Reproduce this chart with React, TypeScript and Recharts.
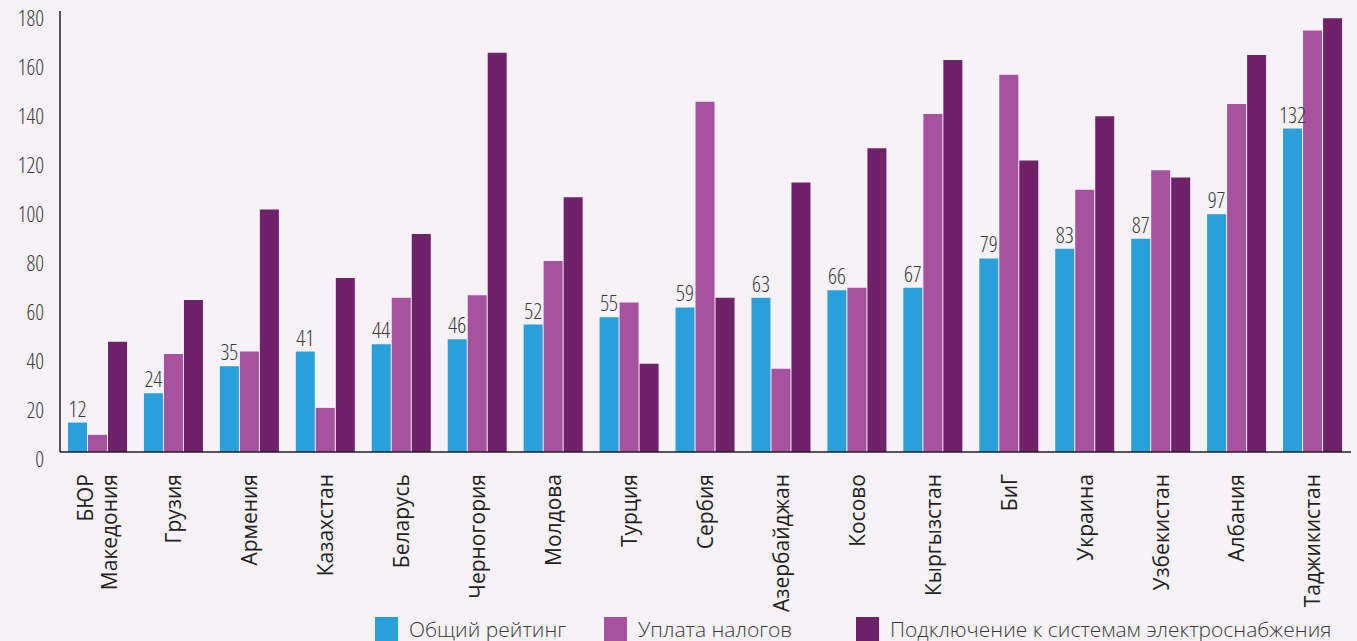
import { BarChart, Bar, XAxis, YAxis, Legend, LabelList } from "recharts";

const countries = [
  "БЮР Македония",
  "Грузия",
  "Армения",
  "Казахстан",
  "Беларусь",
  "Черногория",
  "Молдова",
  "Турция",
  "Сербия",
  "Азербайджан",
  "Косово",
  "Кыргызстан",
  "БиГ",
  "Украина",
  "Узбекистан",
  "Албания",
  "Таджикистан",
];
const overall = [12, 24, 35, 41, 44, 46, 52, 55, 59, 63, 66, 67, 79, 83, 87, 97, 132];
const taxes = [7, 40, 41, 18, 63, 64, 78, 61, 143, 34, 67, 138, 154, 107, 115, 142, 172];
const electricity = [45, 62, 99, 71, 89, 163, 104, 36, 63, 110, 124, 160, 119, 137, 112, 162, 177];
const yTicks = [0, 20, 40, 60, 80, 100, 120, 140, 160, 180];

const series = [
  { key: "overall", name: "Общий рейтинг", color: "#2a9fd9" },
  { key: "taxes", name: "Уплата налогов", color: "#a7529f" },
  { key: "electricity", name: "Подключение к системам электроснабжения", color: "#6e2268" },
];

const data = countries.map((c, i) => ({
  country: c,
  overall: overall[i],
  taxes: taxes[i],
  electricity: electricity[i],
}));

const FONT = "'Open Sans', 'Noto Sans', sans-serif";
const numStyle = { fontStretch: "85%", fontWeight: 300 };

function YTick({ x, y, payload }: any) {
  return (
    <text x={x} y={y + 7} dy="0.35em" textAnchor="end" fontSize={21.5} fill="#3a3a3a" fontFamily={FONT} style={numStyle}>
      {payload.value}
    </text>
  );
}

function XTick({ x, y, payload }: any) {
  const words = String(payload.value).split(" ");
  const lineH = 24;
  const start = x - ((words.length - 1) * lineH) / 2;
  return (
    <g>
      {words.map((w: string, i: number) => (
        <text
          key={i}
          x={0}
          y={0}
          transform={`translate(${start + i * lineH},${y + 14}) rotate(-90)`}
          dy="0.35em"
          textAnchor="end"
          fontSize={21}
          fill="#231f20"
          fontFamily={FONT}
          style={{ fontStretch: "91%" }}
        >
          {w}
        </text>
      ))}
    </g>
  );
}

function LegendBox() {
  const widths = [229, 252, 490];
  return (
    <div style={{ display: "flex", paddingLeft: 375, height: 24, alignItems: "center" }}>
      {series.map((s, i) => (
        <div key={s.key} style={{ width: widths[i], display: "flex", alignItems: "center" }}>
          <span style={{ width: 23, height: 24, background: s.color, display: "inline-block", marginRight: 11 }} />
          <span
            style={{
              fontSize: 21,
              color: "#3a3a3a",
              fontFamily: FONT,
              fontWeight: 300,
              fontStretch: "93%",
              whiteSpace: "nowrap",
            }}
          >
            {s.name}
          </span>
        </div>
      ))}
    </div>
  );
}

export default function App() {
  return (
    <div style={{ position: "absolute", left: 0, top: 0, width: 1357, height: 641, background: "#f7f2f8" }}>
      <BarChart
        width={1357}
        height={641}
        data={data}
        margin={{ top: 11, right: 6, left: 0, bottom: 0 }}
        barCategoryGap={8}
        barGap={1}
      >
        <YAxis
          width={60}
          domain={[0, 180]}
          ticks={yTicks}
          interval={0}
          tickLine={false}
          axisLine={{ stroke: "#231f20", strokeWidth: 1.5 }}
          tick={<YTick />}
          tickMargin={10}
        />
        <XAxis
          dataKey="country"
          height={165}
          interval={0}
          tickLine={false}
          axisLine={{ stroke: "#231f20", strokeWidth: 1.5 }}
          tick={<XTick />}
        />
        <Legend verticalAlign="bottom" height={24} content={<LegendBox />} />
        {series.map((s) => (
          <Bar key={s.key} dataKey={s.key} name={s.name} fill={s.color} isAnimationActive={false}>
            {s.key === "overall" && (
              <LabelList
                dataKey="overall"
                position="top"
                offset={6}
                fontSize={22}
                fill="#3a3a3a"
                fontFamily={FONT}
                style={numStyle}
              />
            )}
          </Bar>
        ))}
      </BarChart>
    </div>
  );
}
